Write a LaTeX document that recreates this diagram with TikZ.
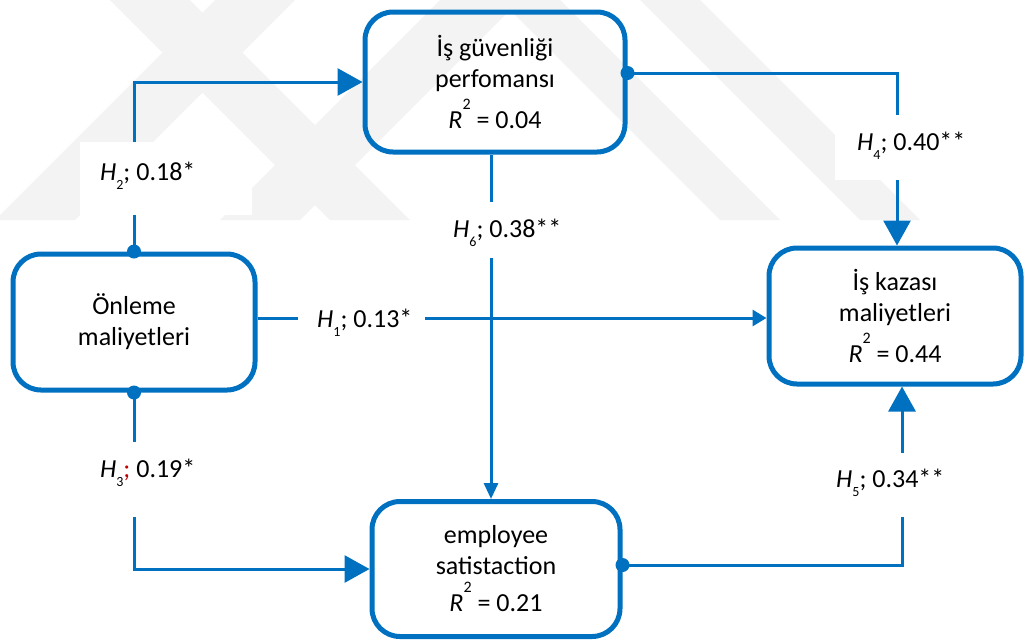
\documentclass[tikz,border=0pt]{standalone}
\usepackage{fontspec}
\setmainfont{Carlito}
\usetikzlibrary{arrows.meta}
\definecolor{pathblue}{HTML}{0070C0}
\definecolor{wmgray}{HTML}{F3F3F3}
\definecolor{semired}{HTML}{C00000}

% hypothesis label H_n with a small lowered index
\newcommand{\hyp}[1]{\textit{H}\raisebox{-9pt}{\fontsize{14}{14}\selectfont #1}}
% R squared with a small raised 2
\newcommand{\rsq}{\textit{R}\raisebox{19pt}{\fontsize{16}{16}\selectfont 2}}

\begin{document}
\begin{tikzpicture}[x=1pt,y=-1pt,
  box/.style={draw=pathblue, line width=5pt, rounded corners=28pt, align=center,
    inner sep=0pt, font=\fontsize{26}{31}\selectfont},
  link/.style={draw=pathblue, line width=3pt},
  bigtip/.style={-{Triangle[length=25pt,width=27pt]}},
  sidetip/.style={-{Triangle[length=14pt,width=16pt]}},
  downtip/.style={-{Triangle[length=16pt,width=14pt]}},
  gapbox/.style={fill=white, inner sep=0pt},
  lbl/.style={anchor=base west, inner sep=0pt, font=\fontsize{26}{31}\selectfont},
]
\useasboundingbox (0,0) rectangle (1024,641);

% faint background emblem bands
\begin{scope}
  \clip (0,0) rectangle (1024,222);
  \fill[wmgray] (110,0) -- (190,0) -- (410,220) -- (330,220) -- cycle;
  \fill[wmgray] (215,0) -- (295,0) -- (75,220) -- (-5,220) -- cycle;
  \fill[wmgray] (440,0) -- (520,0) -- (300,220) -- (220,220) -- cycle;
  \fill[wmgray] (500,0) -- (560,0) -- (780,220) -- (720,220) -- cycle;
  \fill[wmgray] (640,0) -- (700,0) -- (920,220) -- (860,220) -- cycle;
\end{scope}

% construct boxes
\node[box, minimum width=260pt, minimum height=140pt] (sg) at (495,82)
  {İş güvenliği\\perfomansı\\[6pt]\rsq{} = 0.04};
\node[box, minimum width=242pt, minimum height=136pt] (onl) at (134,322)
  {Önleme\\maliyetleri};
\node[box, minimum width=252pt, minimum height=136pt] (kaz) at (895,316)
  {İş kazası\\maliyetleri\\[6pt]\rsq{} = 0.44};
\node[box, minimum width=248pt, minimum height=135pt] (emp) at (496,569)
  {employee\\satistaction\\[6pt]\rsq{} = 0.21};

% helper rows and columns for the path segments
\coordinate (h1row) at (0,318);
\coordinate (h6col) at (491,0);
\coordinate (h4col) at (897,0);
\coordinate (h5col) at (902,0);
\coordinate (h5row) at (0,565);
\coordinate (h4row) at (0,73);

% paths
\draw[link, bigtip] (onl.north) |- (sg.west);
\draw[link, bigtip] (onl.south) |- (emp.west);
\draw[link, sidetip] (onl.east |- h1row) -- (kaz.west |- h1row);
\draw[link, downtip] (sg.south -| h6col) -- (emp.north -| h6col);
\draw[link, bigtip] (sg.east |- h4row) -| (kaz.north -| h4col);
\draw[link, bigtip] (emp.east |- h5row) -| (kaz.south -| h5col);

% white gaps behind the path coefficients
\node[gapbox, minimum width=172pt, minimum height=73pt] (g2) at (166,178.5) {};
\node[gapbox, minimum width=130pt, minimum height=75pt] (g3) at (152,479.5) {};
\node[gapbox, minimum width=127pt, minimum height=40pt] (g1) at (361.5,318) {};
\node[gapbox, minimum width=147pt, minimum height=56pt] (g6) at (506.5,230) {};
\node[gapbox, minimum width=165pt, minimum height=65pt] (g4) at (917.5,147.5) {};
\node[gapbox, minimum width=135pt, minimum height=64pt] (g5) at (892,485) {};

% path coefficients
\node[lbl] (l2) at (100,180) {\hyp{2}; 0.18*};
\node[lbl] (l3) at (100,477) {\hyp{3}\textcolor{semired}{;} 0.19*};
\node[lbl] (l1) at (317,327) {\hyp{1}; 0.13*};
\node[lbl] (l6) at (453,237) {\hyp{6}; 0.38**};
\node[lbl] (l4) at (857,150) {\hyp{4}; 0.40**};
\node[lbl] (l5) at (836,487) {\hyp{5}; 0.34**};

% round path origins
\fill[pathblue] (onl.north) circle (7pt);
\fill[pathblue] (onl.south) circle (7pt);
\fill[pathblue] (sg.east |- h4row) circle (7pt);
\fill[pathblue] (emp.east |- h5row) circle (7pt);
\end{tikzpicture}
\end{document}
